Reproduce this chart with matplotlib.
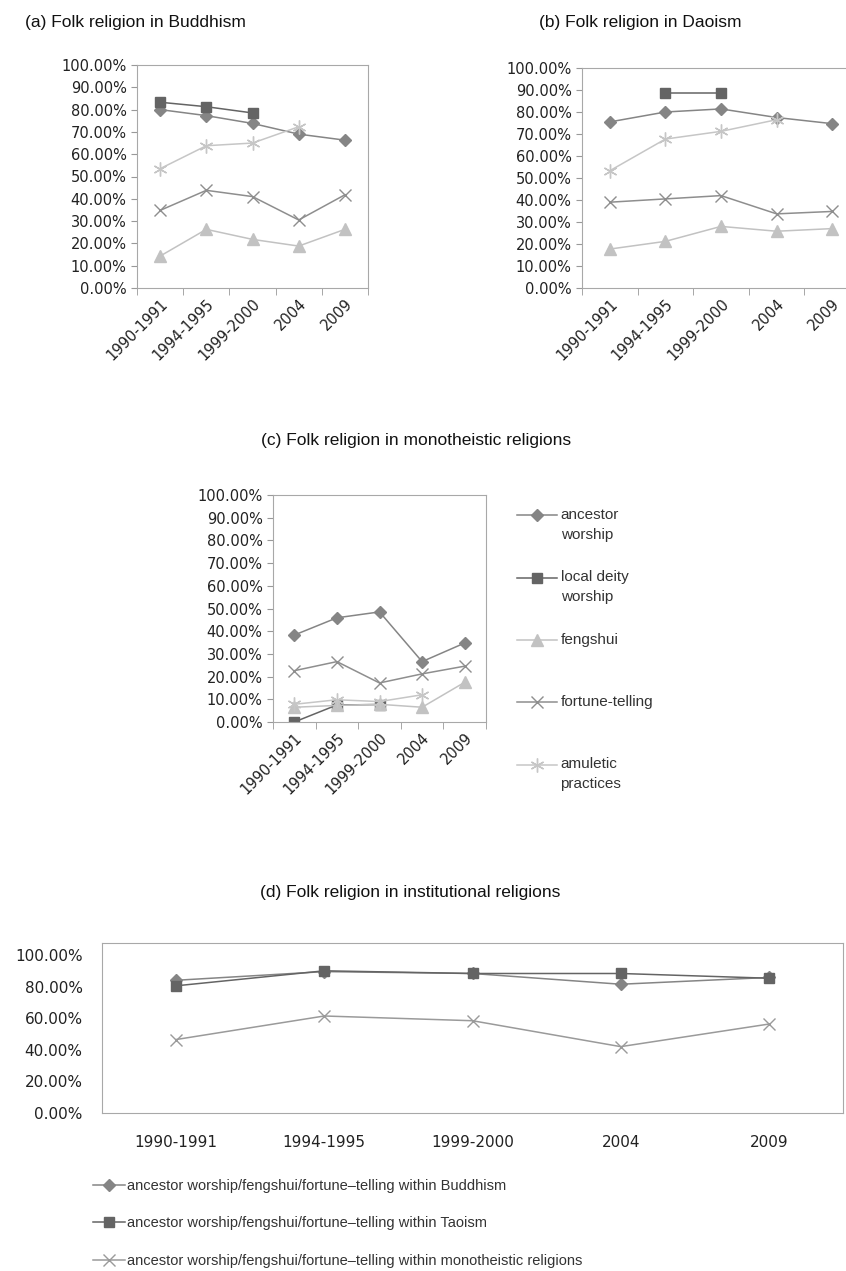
import matplotlib
matplotlib.use("Agg")
import matplotlib.pyplot as plt
import matplotlib.ticker as mticker
import matplotlib.transforms as mtransforms
from matplotlib.legend_handler import HandlerLine2D
import numpy as np

nan = np.nan

years = ['1990-1991', '1994-1995', '1999-2000', '2004', '2009']
# trailing blank line keeps every legend entry the same height
series_names = ['ancestor\nworship', 'local deity\nworship', 'fengshui\n ',
                'fortune-telling\n ', 'amuletic\npractices']

# (a) Buddhism, percent
bud_ancestor = [80.0, 77.3, 73.8, 69.0, 66.3]
bud_deity = [83.3, 81.3, 78.5, nan, nan]
bud_fengshui = [14.3, 26.3, 21.8, 18.8, 26.3]
bud_fortune = [34.8, 43.8, 41.0, 30.5, 41.8]
bud_amulet = [53.5, 63.8, 65.0, 72.3, nan]

# (b) Daoism
dao_ancestor = [75.5, 80.0, 81.4, 77.5, 74.7]
dao_deity = [nan, 88.8, 88.8, nan, nan]
dao_fengshui = [17.7, 21.2, 28.0, 25.8, 27.0]
dao_fortune = [39.0, 40.5, 42.0, 33.7, 34.8]
dao_amulet = [53.3, 67.7, 71.2, 76.5, nan]

# (c) monotheistic religions
mono_ancestor = [38.3, 45.9, 48.5, 26.6, 34.8]
mono_deity = [0.0, 7.5, 7.7, nan, nan]
mono_fengshui = [6.5, 7.3, 7.8, 6.5, 17.5]
mono_fortune = [22.6, 26.6, 17.2, 21.2, 24.6]
mono_amulet = [7.8, 9.8, 9.0, 12.0, nan]

# (d) institutional religions
inst_names = ['ancestor worship/fengshui/fortune\u2013telling within Buddhism',
              'ancestor worship/fengshui/fortune\u2013telling within Taoism',
              'ancestor worship/fengshui/fortune\u2013telling within monotheistic religions']
inst_buddhism = [84.0, 89.5, 88.3, 81.5, 85.8]
inst_taoism = [80.5, 90.0, 88.3, 88.3, 85.3]
inst_mono = [46.5, 61.4, 58.4, 42.0, 56.3]

styles = [
    dict(color='#858585', marker='D', markersize=6),
    dict(color='#646464', marker='s', markersize=7.5),
    dict(color='#c2c2c2', marker='^', markersize=8),
    dict(color='#8e8e8e', marker='x', markersize=8, markeredgewidth=1.0),
    dict(color='#c6c6c6', marker=(6, 2, 0), markersize=10, markeredgewidth=1.0),
]


class FirstLineHandler(HandlerLine2D):
    # put the legend symbol level with the first text line
    def create_artists(self, legend, orig_handle, xdescent, ydescent,
                       width, height, fontsize, trans):
        return super().create_artists(legend, orig_handle, xdescent, ydescent - 14,
                                      width, height, fontsize, trans)


W, H = 846, 1271
fig = plt.figure(figsize=(W / 100, H / 100), dpi=100)

def px_axes(left, top, right, bottom):
    return fig.add_axes([left / W, 1 - bottom / H, (right - left) / W, (bottom - top) / H])

def pct(v, pos):
    return '%.2f%%' % v

def small_panel(ax, data):
    x = np.arange(len(years))
    lines = []
    for vals, st in zip(data, styles):
        ln, = ax.plot(x, vals, linewidth=1.1, **st)
        lines.append(ln)
    ax.set_xlim(-0.5, len(years) - 0.5)
    ax.set_ylim(0, 100)
    ax.yaxis.set_major_locator(mticker.MultipleLocator(10))
    ax.yaxis.set_major_formatter(mticker.FuncFormatter(pct))
    ax.set_xticks(x)
    ax.set_xticklabels(years, rotation=45, ha='right', rotation_mode='anchor',
                       fontsize=10.5, color='#222222')
    shift = mtransforms.ScaledTranslation(-6 / 100, 0, fig.dpi_scale_trans)
    for lab in ax.get_xticklabels():
        lab.set_transform(lab.get_transform() + shift)
    ax.set_xticks(np.arange(-0.5, len(years)), minor=True)
    ax.tick_params(axis='x', which='major', length=0, pad=6)
    ax.tick_params(axis='x', which='minor', length=5, color='#999999')
    ax.tick_params(axis='y', length=4, color='#999999', labelsize=10.5, labelcolor='#222222')
    for s in ax.spines.values():
        s.set_color('#a8a8a8')
    return lines

title_font = dict(family='Liberation Sans', fontsize=12.5, color='#111111')

ax_a = px_axes(137, 65, 368, 288)
small_panel(ax_a, [bud_ancestor, bud_deity, bud_fengshui, bud_fortune, bud_amulet])
fig.text(135 / W, 1 - 22 / H, '(a) Folk religion in Buddhism', ha='center', va='center', **title_font)

ax_b = px_axes(582, 68, 860, 288)
small_panel(ax_b, [dao_ancestor, dao_deity, dao_fengshui, dao_fortune, dao_amulet])
fig.text(640 / W, 1 - 22 / H, '(b) Folk religion in Daoism', ha='center', va='center', **title_font)

ax_c = px_axes(273, 495, 486, 722)
lines_c = small_panel(ax_c, [mono_ancestor, mono_deity, mono_fengshui, mono_fortune, mono_amulet])
fig.text(416 / W, 1 - 440 / H, '(c) Folk religion in monotheistic religions', ha='center', va='center', **title_font)
leg_c = fig.legend(lines_c, series_names, loc='upper left', bbox_to_anchor=(517 / W, 1 - 508 / H),
                   frameon=False, handlelength=2.6, handletextpad=0.25, labelspacing=1.85,
                   borderpad=0, borderaxespad=0,
                   handler_map={ln: FirstLineHandler() for ln in lines_c},
                   prop={'family': 'Liberation Sans', 'size': 11})
for t in leg_c.get_texts():
    t.set_linespacing(1.55)
    t.set_color('#333333')

# (d)
ax_d = px_axes(102, 943, 843, 1113)
x = np.arange(len(years))
d_lines = []
for vals, st in zip([inst_buddhism, inst_taoism, inst_mono], [styles[0], styles[1], styles[3]]):
    ln, = ax_d.plot(x, vals, linewidth=1.1, **st)
    d_lines.append(ln)
d_lines[2].set_color('#9a9a9a')
ax_d.set_xlim(-0.5, len(years) - 0.5)
ax_d.set_ylim(0, 107.6)
ax_d.set_yticks(np.arange(0, 101, 20))
ax_d.yaxis.set_major_formatter(mticker.FuncFormatter(pct))
ax_d.set_xticks(x)
ax_d.set_xticklabels(years)
ax_d.tick_params(length=0, labelsize=11, labelcolor='#222222')
ax_d.tick_params(axis='x', pad=16)
ax_d.tick_params(axis='y', pad=14)
for s in ax_d.spines.values():
    s.set_color('#a8a8a8')
fig.text(410 / W, 1 - 893 / H, '(d) Folk religion in institutional religions', ha='center', va='center', **title_font)
leg_d = fig.legend(d_lines, inst_names, loc='upper left', bbox_to_anchor=(93 / W, 1 - 1179 / H),
                   frameon=False, handlelength=2.2, handletextpad=0.1, labelspacing=1.6,
                   borderpad=0, borderaxespad=0,
                   prop={'family': 'Liberation Sans', 'size': 10.5})
for t in leg_d.get_texts():
    t.set_color('#333333')

fig.savefig('out.png', dpi=100, facecolor='white')
